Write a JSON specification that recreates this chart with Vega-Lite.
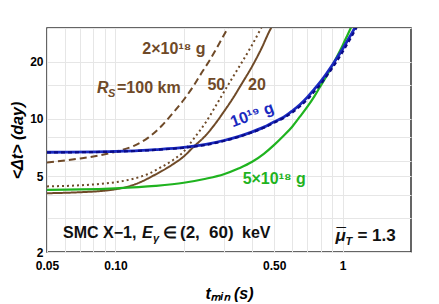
{
  "$schema": "https://vega.github.io/schema/vega-lite/v6.json",
  "width": 364,
  "height": 224,
  "autosize": {"type": "none"},
  "padding": {"left": 47, "top": 28, "right": 28, "bottom": 52},
  "config": {
    "view": {"stroke": "#333333", "strokeWidth": 1.5},
    "font": "Liberation Sans"
  },
  "datasets": {
    "curves": [
      {"s": "d100", "t": 0.05, "v": 5.9}, {"s": "d100", "t": 0.06, "v": 6.05}, {"s": "d100", "t": 0.07, "v": 6.2}, {"s": "d100", "t": 0.08, "v": 6.35}, {"s": "d100", "t": 0.1, "v": 6.72}, {"s": "d100", "t": 0.12, "v": 7.2}, {"s": "d100", "t": 0.14, "v": 8.0}, {"s": "d100", "t": 0.16, "v": 9.2}, {"s": "d100", "t": 0.18, "v": 10.8}, {"s": "d100", "t": 0.2, "v": 12.6}, {"s": "d100", "t": 0.22, "v": 14.8}, {"s": "d100", "t": 0.24, "v": 17.5}, {"s": "d100", "t": 0.26, "v": 20.3}, {"s": "d100", "t": 0.28, "v": 23.7}, {"s": "d100", "t": 0.3, "v": 27.5}, {"s": "d100", "t": 0.32, "v": 31.5},
      {"s": "d50", "t": 0.05, "v": 4.42}, {"s": "d50", "t": 0.07, "v": 4.48}, {"s": "d50", "t": 0.09, "v": 4.58}, {"s": "d50", "t": 0.1, "v": 4.65}, {"s": "d50", "t": 0.12, "v": 4.85}, {"s": "d50", "t": 0.14, "v": 5.15}, {"s": "d50", "t": 0.16, "v": 5.6}, {"s": "d50", "t": 0.18, "v": 6.1}, {"s": "d50", "t": 0.2, "v": 6.75}, {"s": "d50", "t": 0.22, "v": 7.8}, {"s": "d50", "t": 0.25, "v": 9.6}, {"s": "d50", "t": 0.28, "v": 12.0}, {"s": "d50", "t": 0.3, "v": 13.8}, {"s": "d50", "t": 0.33, "v": 16.7}, {"s": "d50", "t": 0.36, "v": 19.8}, {"s": "d50", "t": 0.4, "v": 24.5}, {"s": "d50", "t": 0.44, "v": 30.3},
      {"s": "d20", "t": 0.05, "v": 4.07}, {"s": "d20", "t": 0.07, "v": 4.12}, {"s": "d20", "t": 0.09, "v": 4.2}, {"s": "d20", "t": 0.1, "v": 4.27}, {"s": "d20", "t": 0.12, "v": 4.5}, {"s": "d20", "t": 0.15, "v": 5.1}, {"s": "d20", "t": 0.18, "v": 5.8}, {"s": "d20", "t": 0.2, "v": 6.35}, {"s": "d20", "t": 0.22, "v": 7.1}, {"s": "d20", "t": 0.25, "v": 8.2}, {"s": "d20", "t": 0.28, "v": 9.7}, {"s": "d20", "t": 0.3, "v": 10.9}, {"s": "d20", "t": 0.33, "v": 12.9}, {"s": "d20", "t": 0.36, "v": 15.3}, {"s": "d20", "t": 0.4, "v": 18.9}, {"s": "d20", "t": 0.44, "v": 23.5}, {"s": "d20", "t": 0.48, "v": 29.4}, {"s": "d20", "t": 0.5, "v": 32.0},
      {"s": "g", "t": 0.05, "v": 4.24}, {"s": "g", "t": 0.07, "v": 4.26}, {"s": "g", "t": 0.1, "v": 4.32}, {"s": "g", "t": 0.15, "v": 4.45}, {"s": "g", "t": 0.2, "v": 4.62}, {"s": "g", "t": 0.25, "v": 4.85}, {"s": "g", "t": 0.3, "v": 5.12}, {"s": "g", "t": 0.35, "v": 5.5}, {"s": "g", "t": 0.4, "v": 5.95}, {"s": "g", "t": 0.45, "v": 6.55}, {"s": "g", "t": 0.5, "v": 7.3}, {"s": "g", "t": 0.55, "v": 8.15}, {"s": "g", "t": 0.6, "v": 9.1}, {"s": "g", "t": 0.65, "v": 10.3}, {"s": "g", "t": 0.7, "v": 11.6}, {"s": "g", "t": 0.75, "v": 13.1}, {"s": "g", "t": 0.8, "v": 14.9}, {"s": "g", "t": 0.85, "v": 16.8}, {"s": "g", "t": 0.9, "v": 19.0}, {"s": "g", "t": 0.95, "v": 21.5}, {"s": "g", "t": 1.0, "v": 24.3}, {"s": "g", "t": 1.05, "v": 27.5}, {"s": "g", "t": 1.1, "v": 31.0},
      {"s": "b", "t": 0.05, "v": 6.68}, {"s": "b", "t": 0.1, "v": 6.75}, {"s": "b", "t": 0.15, "v": 6.9}, {"s": "b", "t": 0.2, "v": 7.08}, {"s": "b", "t": 0.25, "v": 7.35}, {"s": "b", "t": 0.3, "v": 7.7}, {"s": "b", "t": 0.35, "v": 8.1}, {"s": "b", "t": 0.4, "v": 8.55}, {"s": "b", "t": 0.45, "v": 9.05}, {"s": "b", "t": 0.5, "v": 9.65}, {"s": "b", "t": 0.55, "v": 10.2}, {"s": "b", "t": 0.6, "v": 11.0}, {"s": "b", "t": 0.65, "v": 11.9}, {"s": "b", "t": 0.7, "v": 13.0}, {"s": "b", "t": 0.75, "v": 14.3}, {"s": "b", "t": 0.8, "v": 15.7}, {"s": "b", "t": 0.85, "v": 17.3}, {"s": "b", "t": 0.9, "v": 19.1}, {"s": "b", "t": 0.95, "v": 21.1}, {"s": "b", "t": 1.0, "v": 23.3}, {"s": "b", "t": 1.05, "v": 25.7}, {"s": "b", "t": 1.1, "v": 28.3}, {"s": "b", "t": 1.15, "v": 31.1},
      {"s": "bd", "t": 0.05, "v": 6.66}, {"s": "bd", "t": 0.1, "v": 6.73}, {"s": "bd", "t": 0.15, "v": 6.87}, {"s": "bd", "t": 0.2, "v": 7.05}, {"s": "bd", "t": 0.25, "v": 7.3}, {"s": "bd", "t": 0.3, "v": 7.65}, {"s": "bd", "t": 0.35, "v": 8.05}, {"s": "bd", "t": 0.4, "v": 8.5}, {"s": "bd", "t": 0.45, "v": 8.98}, {"s": "bd", "t": 0.5, "v": 9.55}, {"s": "bd", "t": 0.55, "v": 10.1}, {"s": "bd", "t": 0.6, "v": 10.8}, {"s": "bd", "t": 0.65, "v": 11.65}, {"s": "bd", "t": 0.7, "v": 12.65}, {"s": "bd", "t": 0.75, "v": 13.9}, {"s": "bd", "t": 0.8, "v": 15.2}, {"s": "bd", "t": 0.85, "v": 16.75}, {"s": "bd", "t": 0.9, "v": 18.45}, {"s": "bd", "t": 0.95, "v": 20.35}, {"s": "bd", "t": 1.0, "v": 22.45}, {"s": "bd", "t": 1.05, "v": 24.8}, {"s": "bd", "t": 1.1, "v": 27.3}, {"s": "bd", "t": 1.15, "v": 30.1}, {"s": "bd", "t": 1.2, "v": 33.0}
    ]
  },
  "encoding": {
    "x": {
      "field": "t", "type": "quantitative",
      "scale": {"type": "log", "domain": [0.05, 2], "nice": false},
      "axis": {
        "values": [0.05, 0.06, 0.07, 0.08, 0.09, 0.1, 0.2, 0.3, 0.4, 0.5, 0.6, 0.7, 0.8, 0.9, 1],
        "labelExpr": "datum.value == 0.05 ? '0.05' : datum.value == 0.1 ? '0.10' : datum.value == 0.5 ? '0.50' : datum.value == 1 ? '1' : ''",
        "grid": true, "gridColor": "#e6e6e6", "gridWidth": 1,
        "ticks": false, "domain": false, "tickSize": 0,
        "labelPadding": 8, "labelFontSize": 12, "labelFontWeight": "bold", "labelColor": "#000000",
        "labelFlush": false, "labelOverlap": false, "labelFont": "Liberation Sans",
        "title": "tₘᵢₙ  (s)", "titleFontSize": 16, "titleFontWeight": "bold", "titleFontStyle": "italic",
        "titleColor": "#000000", "titleFont": "Liberation Sans",
        "titleX": 182, "titleY": 41, "titleBaseline": "middle", "titleAlign": "center"
      }
    },
    "y": {
      "field": "v", "type": "quantitative",
      "scale": {"type": "log", "domain": [2, 30], "nice": false},
      "axis": {
        "values": [2, 3, 4, 5, 6, 8, 10, 15, 20, 30],
        "labelExpr": "(datum.value == 2 || datum.value == 5 || datum.value == 10 || datum.value == 20) ? toString(datum.value) : ''",
        "grid": true, "gridColor": "#e6e6e6", "gridWidth": 1,
        "ticks": false, "domain": false, "tickSize": 0,
        "labelPadding": 4, "labelFontSize": 12, "labelFontWeight": "bold", "labelColor": "#000000",
        "labelFlush": false, "labelOverlap": false, "labelFont": "Liberation Sans",
        "title": "<Δt>  (day)", "titleFontSize": 16, "titleFontWeight": "bold", "titleFontStyle": "italic",
        "titleColor": "#000000", "titleFont": "Liberation Sans",
        "titleX": -30, "titleY": 112, "titleBaseline": "middle", "titleAlign": "center", "titleAngle": -90
      }
    }
  },
  "layer": [
    {
      "data": {"name": "curves"},
      "transform": [{"filter": "datum.s == 'd100' || datum.s == 'd50' || datum.s == 'd20'"}],
      "mark": {"type": "line", "clip": true, "interpolate": "monotone", "strokeWidth": 2, "color": "#6f4a28"},
      "encoding": {
        "detail": {"field": "s"},
        "strokeDash": {"field": "s", "type": "nominal", "scale": {"domain": ["d100", "d50", "d20"], "range": [[7, 4], [2, 3], [1, 0]]}, "legend": null}
      }
    },
    {
      "data": {"name": "curves"},
      "transform": [{"filter": "datum.s == 'g'"}],
      "mark": {"type": "line", "clip": true, "interpolate": "monotone", "strokeWidth": 2.2, "color": "#1fb31f"},
      "encoding": {}
    },
    {
      "data": {"name": "curves"},
      "transform": [{"filter": "datum.s == 'b'"}],
      "mark": {"type": "line", "clip": true, "interpolate": "monotone", "strokeWidth": 2.8, "color": "#1a2ac0"},
      "encoding": {}
    },
    {
      "data": {"name": "curves"},
      "transform": [{"filter": "datum.s == 'bd'"}],
      "mark": {"type": "line", "clip": true, "interpolate": "monotone", "strokeWidth": 2.2, "color": "#0a0a85", "strokeDash": [4, 3]},
      "encoding": {}
    },
    {
      "data": {"values": [
        {"t": 0.181, "v": 23.4, "label": "2×10¹⁸ g"},
        {"t": 0.278, "v": 15.0, "label": "50"},
        {"t": 0.42, "v": 15.0, "label": "20"}
      ]},
      "mark": {"type": "text", "fontSize": 16, "fontWeight": "bold", "color": "#6f4a28", "align": "center", "baseline": "middle"},
      "encoding": {"text": {"field": "label"}}
    },
    {
      "data": {"values": [{"t": 0.083, "v": 13.7, "label": "R"}]},
      "mark": {"type": "text", "fontSize": 16, "fontWeight": "bold", "fontStyle": "italic", "color": "#6f4a28", "align": "left", "baseline": "alphabetic", "dx": 0},
      "encoding": {"text": {"field": "label"}}
    },
    {
      "data": {"values": [{"t": 0.083, "v": 13.7, "label": "S"}]},
      "mark": {"type": "text", "fontSize": 11, "fontWeight": "bold", "fontStyle": "italic", "color": "#6f4a28", "align": "left", "baseline": "alphabetic", "dx": 11, "dy": 4},
      "encoding": {"text": {"field": "label"}}
    },
    {
      "data": {"values": [{"t": 0.083, "v": 13.7, "label": "=100 km"}]},
      "mark": {"type": "text", "fontSize": 16, "fontWeight": "bold", "color": "#6f4a28", "align": "left", "baseline": "alphabetic", "dx": 20},
      "encoding": {"text": {"field": "label"}}
    },
    {
      "data": {"values": [{"t": 0.40, "v": 10.5, "label": "10¹⁹ g"}]},
      "mark": {"type": "text", "fontSize": 16, "fontWeight": "bold", "color": "#1a2ac0", "align": "center", "baseline": "middle", "angle": -20},
      "encoding": {"text": {"field": "label"}}
    },
    {
      "data": {"values": [{"t": 0.5, "v": 4.84, "label": "5×10¹⁸ g"}]},
      "mark": {"type": "text", "fontSize": 16, "fontWeight": "bold", "color": "#1fb31f", "align": "center", "baseline": "middle"},
      "encoding": {"text": {"field": "label"}}
    },
    {
      "data": {"values": [{"t": 0.0588, "v": 2.37, "label": "SMC X−1,"}]},
      "mark": {"type": "text", "fontSize": 16, "fontWeight": "bold", "color": "#111111", "align": "left", "baseline": "alphabetic", "dx": 0},
      "encoding": {"text": {"field": "label"}}
    },
    {
      "data": {"values": [{"t": 0.0588, "v": 2.37, "label": "E"}]},
      "mark": {"type": "text", "fontSize": 16, "fontWeight": "bold", "fontStyle": "italic", "color": "#111111", "align": "left", "baseline": "alphabetic", "dx": 79},
      "encoding": {"text": {"field": "label"}}
    },
    {
      "data": {"values": [{"t": 0.0588, "v": 2.37, "label": "γ"}]},
      "mark": {"type": "text", "fontSize": 11, "fontWeight": "bold", "fontStyle": "italic", "color": "#111111", "align": "left", "baseline": "alphabetic", "dx": 90, "dy": 4},
      "encoding": {"text": {"field": "label"}}
    },
    {
      "data": {"values": [{"t": 0.0588, "v": 2.37, "label": "∈"}]},
      "mark": {"type": "text", "fontSize": 16, "fontWeight": "bold", "color": "#111111", "align": "left", "baseline": "alphabetic", "dx": 100},
      "encoding": {"text": {"field": "label"}}
    },
    {
      "data": {"values": [{"t": 0.0588, "v": 2.37, "label": "(2,"}]},
      "mark": {"type": "text", "fontSize": 17, "fontWeight": "bold", "color": "#111111", "align": "left", "baseline": "alphabetic", "dx": 117},
      "encoding": {"text": {"field": "label"}}
    },
    {
      "data": {"values": [{"t": 0.0588, "v": 2.37, "label": "60)"}]},
      "mark": {"type": "text", "fontSize": 17, "fontWeight": "bold", "color": "#111111", "align": "left", "baseline": "alphabetic", "dx": 146},
      "encoding": {"text": {"field": "label"}}
    },
    {
      "data": {"values": [{"t": 0.0588, "v": 2.37, "label": "keV"}]},
      "mark": {"type": "text", "fontSize": 16, "fontWeight": "bold", "color": "#111111", "align": "left", "baseline": "alphabetic", "dx": 179},
      "encoding": {"text": {"field": "label"}}
    },
    {
      "data": {"values": [{"t": 0.93, "v": 2.29, "label": "μ"}]},
      "mark": {"type": "text", "fontSize": 17, "fontWeight": "bold", "fontStyle": "italic", "color": "#111111", "align": "left", "baseline": "alphabetic", "dx": 0},
      "encoding": {"text": {"field": "label"}}
    },
    {
      "data": {"values": [{"t": 0.93, "v": 2.29, "label": "¯"}]},
      "mark": {"type": "text", "fontSize": 17, "fontWeight": "bold", "color": "#111111", "align": "left", "baseline": "alphabetic", "dx": 1, "dy": -1},
      "encoding": {"text": {"field": "label"}}
    },
    {
      "data": {"values": [{"t": 0.93, "v": 2.29, "label": "T"}]},
      "mark": {"type": "text", "fontSize": 11, "fontWeight": "bold", "fontStyle": "italic", "color": "#111111", "align": "left", "baseline": "alphabetic", "dx": 10, "dy": 4},
      "encoding": {"text": {"field": "label"}}
    },
    {
      "data": {"values": [{"t": 0.93, "v": 2.29, "label": "= 1.3"}]},
      "mark": {"type": "text", "fontSize": 17, "fontWeight": "bold", "color": "#111111", "align": "left", "baseline": "alphabetic", "dx": 22},
      "encoding": {"text": {"field": "label"}}
    }
  ]
}
